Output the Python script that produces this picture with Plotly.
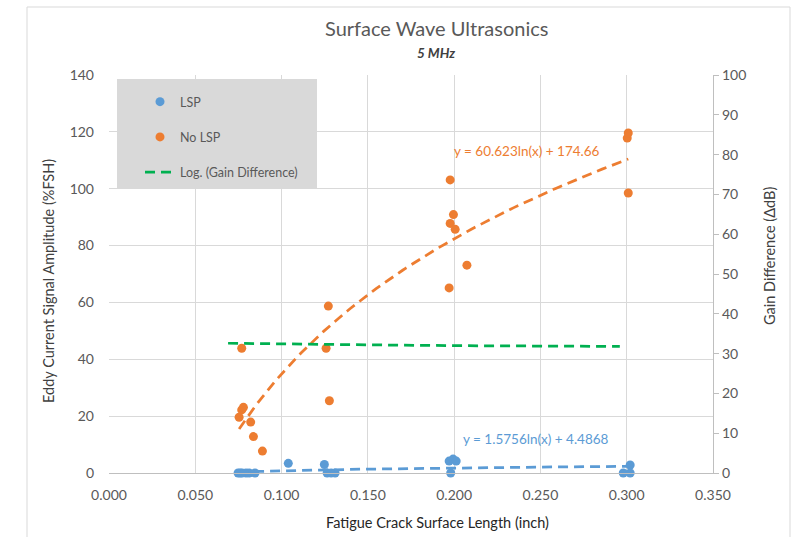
import numpy as np
import plotly.graph_objects as go

# ---------------- data ----------------
lsp_x = [0.0748, 0.0760, 0.0771, 0.0794, 0.0812, 0.0846, 0.1039, 0.1248, 0.1264, 0.1287,
         0.1310, 0.1971, 0.1994, 0.2012, 0.1980, 0.2980, 0.3020, 0.3020]
lsp_y = [0.0, 0.0, 0.0, 0.0, 0.0, 0.0, 3.4, 3.0, 0.0, 0.0,
         0.0, 4.2, 4.9, 4.2, 0.0, 0.0, 2.8, 0.0]

nolsp_x = [0.0754, 0.0769, 0.0769, 0.0779, 0.0821, 0.0837, 0.0889, 0.1258, 0.1271, 0.1277,
           0.1971, 0.1977, 0.1977, 0.1996, 0.2006, 0.2074, 0.3003, 0.3009, 0.3009]
nolsp_y = [19.6, 43.9, 22.2, 23.1, 17.9, 12.8, 7.7, 43.9, 58.7, 25.4,
           65.1, 103.1, 87.8, 90.9, 85.7, 73.1, 117.8, 119.6, 98.5]

# Log trend of Gain Difference (right axis)
gain_trend_x = [0.069, 0.100, 0.150, 0.200, 0.250, 0.296]
gain_trend_y = [32.6, 32.4, 32.2, 32.0, 31.9, 31.8]

x_ticks = [0.0, 0.05, 0.10, 0.15, 0.20, 0.25, 0.30, 0.35]
eq_nolsp = "y = 60.623ln(x) + 174.66"
eq_lsp = "y = 1.5756ln(x) + 4.4868"

BLUE = "#5B9BD5"
ORANGE = "#ED7D31"
GREEN = "#00B050"
GRID = "#D9D9D9"
TXT = "#595959"
FONT = "Lato"


def log_fit(xs, ys):
    xs = np.asarray(xs, float)
    ys = np.asarray(ys, float)
    a, b = np.polyfit(np.log(xs), ys, 1)
    xx = np.linspace(xs.min(), xs.max(), 120)
    return xx, a * np.log(xx) + b


fig = go.Figure()

fig.add_trace(go.Scatter(x=lsp_x, y=lsp_y, mode="markers", name="LSP",
                         legendgroup="a", cliponaxis=False,
                         marker=dict(color=BLUE, size=9)))
fig.add_trace(go.Scatter(x=nolsp_x, y=nolsp_y, mode="markers", name="No LSP",
                         legendgroup="b", cliponaxis=False,
                         marker=dict(color=ORANGE, size=9)))

bx, by = log_fit(lsp_x, lsp_y)
fig.add_trace(go.Scatter(x=bx, y=by, mode="lines", showlegend=False,
                         line=dict(color=BLUE, width=2.75, dash="10px,6px")))
ox, oy = log_fit(nolsp_x, nolsp_y)
fig.add_trace(go.Scatter(x=ox, y=oy, mode="lines", showlegend=False,
                         line=dict(color=ORANGE, width=2.75, dash="10px,6px")))

fig.add_trace(go.Scatter(x=gain_trend_x, y=gain_trend_y, mode="lines",
                         name="Log. (Gain Difference)", legendgroup="c",
                         yaxis="y2",
                         line=dict(color=GREEN, width=2.75, dash="10px,6px")))

# plot area: x 109..713 px, y 75..473 px
L, R, T, B = 109, 713, 75, 473
W, H = R - L, B - T


def px(xp):
    return (xp - L) / W


def py(yp):
    return (B - yp) / H


fig.update_layout(
    width=799, height=537,
    margin=dict(l=L, r=799 - R, t=T, b=537 - B),
    paper_bgcolor="white", plot_bgcolor="white",
    font=dict(family=FONT, color=TXT, size=13),
    showlegend=True,
    legend=dict(x=px(140), y=py(87), xanchor="left", yanchor="top",
                bgcolor="rgba(0,0,0,0)", font=dict(size=12.5, color=TXT),
                tracegroupgap=16, traceorder="grouped"),
    xaxis=dict(range=[0, 0.35], tickvals=x_ticks, tickformat=".3f",
               showgrid=True, gridcolor=GRID, gridwidth=1,
               zeroline=False, showline=True, linecolor="#BFBFBF", linewidth=1,
               ticks="", tickfont=dict(size=14, color=TXT), ticklabelstandoff=9),
    yaxis=dict(range=[0, 140], dtick=20, showgrid=True, gridcolor=GRID,
               zeroline=False, showline=False, ticks="",
               tickfont=dict(size=14, color=TXT), ticklabelstandoff=14),
    yaxis2=dict(range=[0, 100], dtick=10, overlaying="y", side="right",
                showgrid=False, zeroline=False, showline=True,
                linecolor="#BFBFBF", linewidth=1.3, ticks="outside", ticklen=5,
                tickcolor="#BFBFBF", tickfont=dict(size=14, color=TXT)),
)

shapes = [
    # chart border
    dict(type="rect", xref="paper", yref="paper", x0=px(27), x1=px(790),
         y0=py(545), y1=py(7), line=dict(color=GRID, width=1),
         fillcolor="rgba(0,0,0,0)", layer="below"),
    # legend box
    dict(type="rect", xref="paper", yref="paper", x0=px(117), x1=px(317),
         y0=py(188), y1=py(79), line=dict(width=0), fillcolor="#D9D9D9",
         layer="above"),
]
fig.update_layout(shapes=shapes)

ann = [
    dict(text="Surface Wave Ultrasonics", x=px(436), y=py(28), xref="paper", yref="paper",
         showarrow=False, font=dict(size=20, color=TXT), xanchor="center", yanchor="middle"),
    dict(text="<b><i>5 MHz</i></b>", x=px(436), y=py(53), xref="paper", yref="paper",
         showarrow=False, font=dict(size=13.5, color="#404040"), xanchor="center", yanchor="middle"),
    dict(text="Fatigue Crack Surface Length (inch)", x=px(437), y=py(522), xref="paper",
         yref="paper", showarrow=False, font=dict(size=14.5, color="#262626"),
         xanchor="center", yanchor="middle"),
    dict(text="Eddy Current Signal Amplitude (%FSH)", x=px(48), y=py(281), xref="paper",
         yref="paper", showarrow=False, textangle=-90, font=dict(size=14.5, color="#404040"),
         xanchor="center", yanchor="middle"),
    dict(text="Gain Difference (ΔdB)", x=px(769), y=py(256), xref="paper",
         yref="paper", showarrow=False, textangle=-90, font=dict(size=14.5, color="#404040"),
         xanchor="center", yanchor="middle"),
    dict(text=eq_nolsp, x=px(452), y=py(151), xref="paper", yref="paper",
         showarrow=False, font=dict(size=13.5, color=ORANGE), xanchor="left", yanchor="middle"),
    dict(text=eq_lsp, x=px(461), y=py(439), xref="paper", yref="paper",
         showarrow=False, font=dict(size=13.5, color=BLUE), xanchor="left", yanchor="middle"),
]
fig.update_layout(annotations=ann)

fig.write_html("out.html")
